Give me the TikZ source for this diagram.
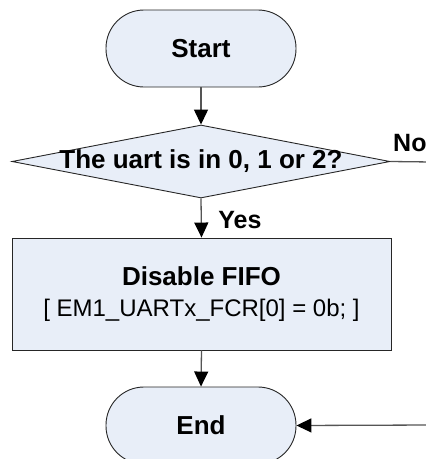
\documentclass[tikz,border=0pt]{standalone}
\usepackage{fontspec}
\setmainfont{Liberation Sans}
\usetikzlibrary{shapes.geometric,arrows.meta}
\definecolor{shapefill}{HTML}{E8EEF8}
\definecolor{connline}{HTML}{555555}
\tikzset{
  terminal/.style={draw=black!85, fill=shapefill, line width=0.9pt,
    rectangle, rounded corners=38pt, minimum width=190pt, minimum height=77pt,
    inner sep=0pt, font=\bfseries\fontsize{26}{30}\selectfont},
  decision/.style={draw=black!85, fill=shapefill, line width=0.9pt,
    diamond, minimum width=378pt, minimum height=73pt, inner sep=0pt},
  process/.style={draw=black!85, fill=shapefill, line width=0.9pt,
    rectangle, minimum width=379pt, minimum height=112pt, inner sep=0pt,
    align=center, font=\fontsize{24}{31}\selectfont},
  boldlabel/.style={font=\bfseries\fontsize{26}{30}\selectfont, inner sep=0pt},
  edgelabel/.style={font=\bfseries\fontsize{25}{30}\selectfont, inner sep=0pt},
  conn/.style={draw=connline, line width=1.3pt,
    -{Triangle[length=15pt,width=14pt,fill=black,color=black]}},
  plainconn/.style={draw=connline, line width=1.3pt}
}
\begin{document}
\begin{tikzpicture}[x=1pt,y=-1pt]
  \useasboundingbox (0,0) rectangle (426,459);
  \clip (0,0) rectangle (426,459);

  % flow nodes
  \node[terminal] (start) at (201,48.5) {Start};
  \node[decision] (q) at (201,161.5) {};
  \node[boldlabel] (qtext) at (q.center) {The uart is in 0, 1 or 2?};
  \node[process] (fifo) at (201.5,294)
    {{\bfseries\fontsize{26}{31}\selectfont Disable FIFO}\\
     {}[ EM1\_UARTx\_FCR[0] = 0b; ]};
  \node[terminal] (finish) at (201,425.5) {End};

  % free ends leaving the picture on the right
  \coordinate (noexit) at (432,162);
  \coordinate (backin) at (432,425);

  % connectors
  \draw[conn] (start.south) -- (q.north);
  \draw[conn] (q.south) -- (fifo.north);
  \draw[conn] (fifo.south) -- (finish.north);
  \draw[plainconn] (q.east) -- (noexit);
  \draw[conn] (backin) -- (finish.east);

  % branch labels
  \node[edgelabel, anchor=center] (yes) at (240,220) {Yes};
  \node[edgelabel, anchor=west] (no) at (393,143.5) {No};
\end{tikzpicture}
\end{document}
